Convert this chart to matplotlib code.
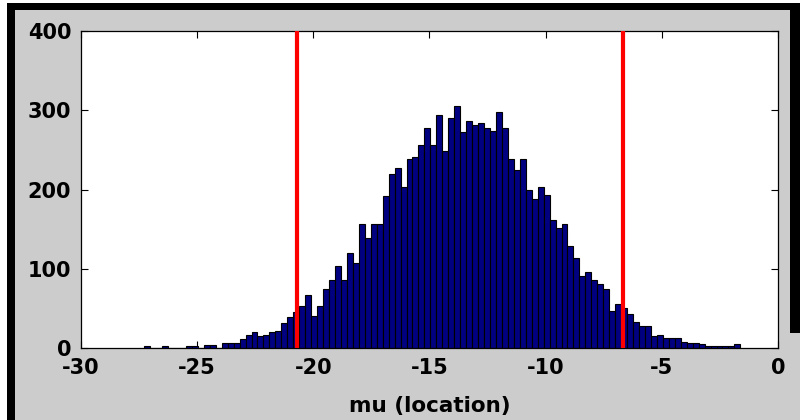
import numpy as np
import matplotlib
matplotlib.use("Agg")
import matplotlib.pyplot as plt
from matplotlib.patches import Rectangle

plt.rcParams["axes.unicode_minus"] = False

# histogram of mu samples, 100 bins
counts = [2, 0, 0, 2, 0, 0, 0, 2, 3, 0, 4, 4, 0, 6, 6, 6, 11, 16, 20, 15, 17, 20, 21,
          31, 39, 46, 53, 67, 41, 53, 74, 86, 103, 86, 120, 107, 156, 139, 156, 156,
          192, 220, 227, 203, 239, 241, 256, 278, 256, 294, 248, 290, 305, 273, 287,
          281, 284, 277, 274, 298, 277, 239, 225, 239, 200, 188, 203,
          193, 162, 152, 157, 129, 113, 91, 96, 86, 81, 74, 47, 55, 50, 43, 33, 28,
          28, 15, 17, 13, 13, 13, 7, 6, 6, 5, 3, 2, 2, 2, 3, 5]
bin_lo, bin_hi = -27.28, -1.62
interval = [-20.70, -6.68]   # credible interval bounds
xticks = [-30, -25, -20, -15, -10, -5, 0]
yticks = [0, 100, 200, 300, 400]

edges = np.linspace(bin_lo, bin_hi, len(counts) + 1)
centers = (edges[:-1] + edges[1:]) / 2
width = edges[1] - edges[0]

W, H = 800, 420
fig = plt.figure(figsize=(8, 4.2), dpi=100, facecolor="#cccccc")
ax = fig.add_axes([81 / W, 72 / H, 697 / W, 317 / H])
ax.set_facecolor("white")

ax.bar(centers, counts, width=width, color="#000080", edgecolor="black",
       linewidth=0.8, zorder=2)
for v in interval:
    ax.axvline(v, color="red", linewidth=3, zorder=3)

ax.set_xlim(-30, 0)
ax.set_ylim(0, 400)
ax.set_xticks(xticks)
ax.set_yticks(yticks)
ax.tick_params(direction="in", length=5, width=0.8, top=True, right=True,
               labelsize=15, pad=7)
for lab in ax.get_xticklabels() + ax.get_yticklabels():
    lab.set_fontweight("bold")
for s in ax.spines.values():
    s.set_linewidth(0.9)
ax.set_xlabel("mu (location)", fontsize=15.5, fontweight="bold", labelpad=13)

# window frame
def px_rect(x0, y0, w, h, c):
    fig.add_artist(Rectangle((x0 / W, (H - y0 - h) / H), w / W, h / H,
                             transform=fig.transFigure, color=c, lw=0, zorder=10))

px_rect(0, 0, W, 3, "white")
px_rect(0, 0, 7, H, "white")
px_rect(7, 3, W - 7, 7, "black")
px_rect(7, 3, 8, H - 3, "black")
px_rect(790, 3, 10, 330, "black")

fig.savefig("out.png", dpi=100, facecolor=fig.get_facecolor())
